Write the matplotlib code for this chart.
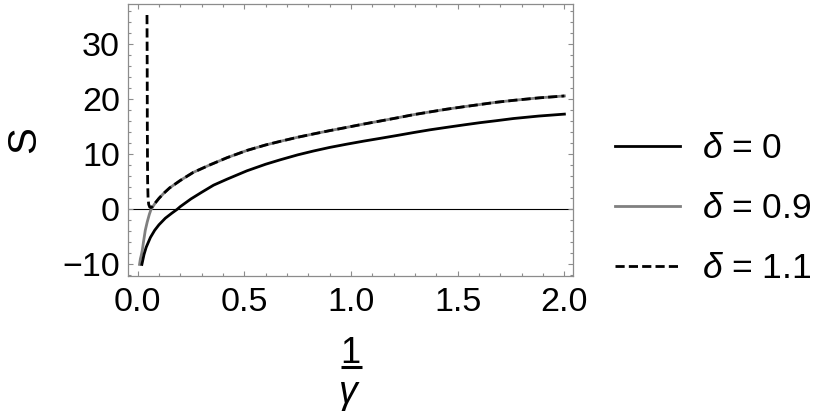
import matplotlib
matplotlib.use("Agg")
import matplotlib.pyplot as plt
from matplotlib.ticker import MultipleLocator, FormatStrFormatter
from matplotlib.lines import Line2D

plt.rcParams['font.family'] = ['Liberation Sans', 'DejaVu Sans']
plt.rcParams['mathtext.fontset'] = 'custom'
plt.rcParams['mathtext.rm'] = 'Liberation Sans'
plt.rcParams['mathtext.it'] = 'Liberation Sans:italic'
plt.rcParams['mathtext.bf'] = 'Liberation Sans:bold'

# ---- data ----
x_d0 = [0.020, 0.030, 0.040, 0.060, 0.080, 0.100, 0.130, 0.160, 0.185, 0.200,
        0.250, 0.300, 0.356, 0.420, 0.512, 0.600, 0.668, 0.750, 0.824, 0.900,
        0.981, 1.060, 1.137, 1.220, 1.293, 1.370, 1.449, 1.530, 1.605, 1.680,
        1.761, 1.880, 2.000]
s_d0 = [-10.0, -8.2, -6.9, -5.1, -3.8, -2.8, -1.6, -0.7, 0.0, 0.5,
        1.9, 3.1, 4.4, 5.5, 7.0, 8.2, 9.0, 9.9, 10.6, 11.25,
        11.85, 12.4, 12.9, 13.45, 13.95, 14.45, 14.9, 15.35, 15.75, 16.1,
        16.5, 16.95, 17.3]

x_d09 = [0.009, 0.013, 0.018, 0.022, 0.028, 0.036, 0.045, 0.055, 0.063, 0.080,
         0.100, 0.122, 0.150, 0.200, 0.260, 0.340, 0.420, 0.512, 0.600, 0.668,
         0.750, 0.824, 0.900, 0.981, 1.060, 1.137, 1.220, 1.293, 1.370, 1.449,
         1.530, 1.605, 1.680, 1.761, 1.880, 2.000]
s_d09 = [-10.0, -9.0, -8.2, -7.4, -5.8, -3.8, -2.3, -0.9, 0.0, 1.0,
         2.0, 2.9, 3.9, 5.25, 6.7, 8.1, 9.4, 10.7, 11.7, 12.35,
         13.1, 13.7, 14.3, 14.9, 15.5, 16.05, 16.65, 17.2, 17.7, 18.2,
         18.65, 19.05, 19.45, 19.8, 20.25, 20.6]

x_d11 = [0.044, 0.0450, 0.0455, 0.0465, 0.047, 0.049, 0.052, 0.057, 0.063, 0.070,
         0.080, 0.100, 0.122, 0.150, 0.200, 0.260, 0.340, 0.420, 0.512, 0.600,
         0.668, 0.750, 0.824, 0.900, 0.981, 1.060, 1.137, 1.220, 1.293, 1.370,
         1.449, 1.530, 1.605, 1.680, 1.761, 1.880, 2.000]
s_d11 = [35.3, 25.0, 15.0, 8.0, 5.0, 2.0, 0.9, 0.4, 0.35, 0.55,
         1.05, 2.0, 2.9, 3.9, 5.25, 6.7, 8.1, 9.4, 10.7, 11.7,
         12.35, 13.1, 13.7, 14.3, 14.9, 15.5, 16.05, 16.65, 17.2, 17.7,
         18.2, 18.65, 19.05, 19.45, 19.8, 20.25, 20.6]

labels = [r'$\delta$ = 0', r'$\delta$ = 0.9', r'$\delta$ = 1.1']
x_ticks = [0.0, 0.5, 1.0, 1.5, 2.0]
y_ticks = [-10, 0, 10, 20, 30]

# ---- figure ----
W, H = 830, 416
fig = plt.figure(figsize=(W / 100, H / 100), dpi=100)
ax = fig.add_axes([128.3 / W, 1 - 276 / H, (573.3 - 128.3) / W, (276 - 4) / H])

ax.axhline(0, color='black', lw=0.8, zorder=1)
l0, = ax.plot(x_d0, s_d0, color='black', lw=2.0, zorder=3)
l1, = ax.plot(x_d09, s_d09, color='#808080', lw=2.0, zorder=2)
l2, = ax.plot(x_d11, s_d11, color='black', lw=2.0, ls=(0, (3.3, 1.5)), zorder=4)

ax.set_xlim(-0.0436, 2.0417)
ax.set_ylim(-12.1, 37.3)
ax.set_xticks(x_ticks)
ax.set_yticks(y_ticks)
ax.xaxis.set_major_formatter(FormatStrFormatter('%.1f'))
ax.xaxis.set_minor_locator(MultipleLocator(0.1))
ax.yaxis.set_minor_locator(MultipleLocator(2))

frame_col = '#8c8c8c'
for sp in ax.spines.values():
    sp.set_color(frame_col)
    sp.set_linewidth(0.9)
ax.tick_params(which='both', direction='in', top=True, right=True,
               color=frame_col, width=0.8, labelsize=24.5, labelcolor='black')
ax.tick_params(which='major', length=3.6)
ax.tick_params(which='minor', length=2.2)
ax.tick_params(axis='x', which='major', pad=8)
ax.tick_params(axis='y', which='major', pad=6)

ax.set_ylabel('S', fontsize=29, labelpad=14)

# x label: fraction 1 / gamma
fig.text(350.7 / W, 1 - 363.3 / H, '1', ha='center', va='baseline', fontsize=26)
fig.add_artist(Line2D([340.7 / W, 361.7 / W], [1 - 367 / H, 1 - 367 / H],
                      transform=fig.transFigure, color='black', lw=2.2,
                      solid_capstyle='butt'))
fig.text(349.5 / W, 1 - 403 / H, r'$\gamma$', ha='center', va='baseline', fontsize=27)

fig.legend([l0, l1, l2], labels, loc='center left',
           bbox_to_anchor=(615 / W, 1 - 208.5 / H), frameon=False,
           borderpad=0, borderaxespad=0, handlelength=1.84, handletextpad=0.61,
           labelspacing=0.76, fontsize=25.5)

fig.savefig('out.png', dpi=100)
